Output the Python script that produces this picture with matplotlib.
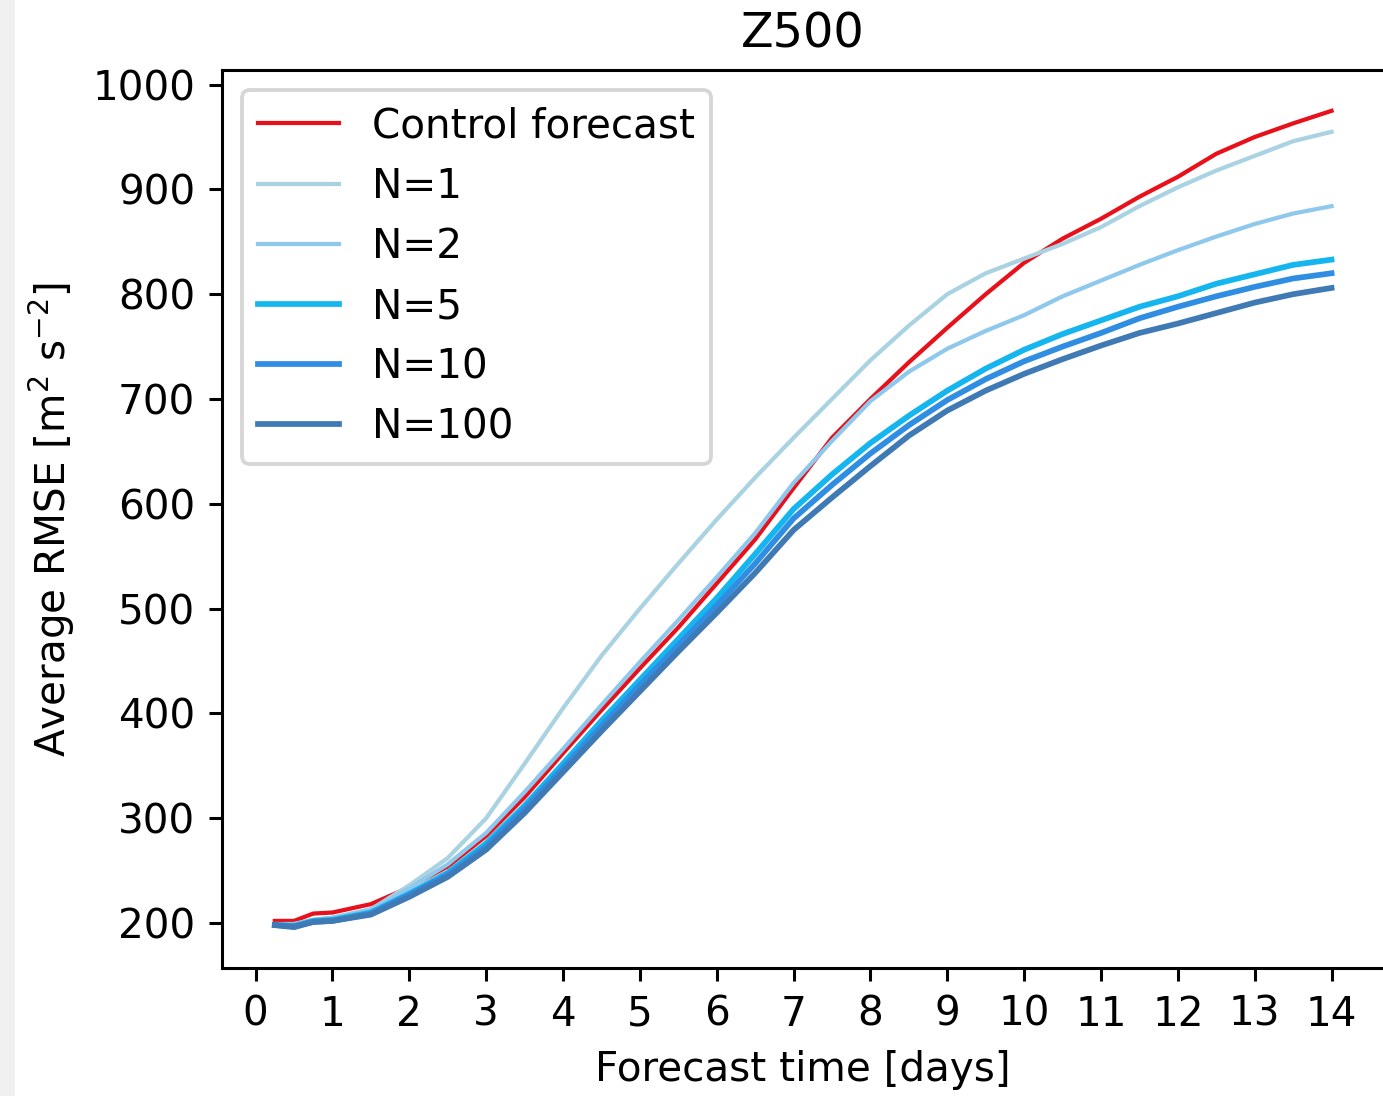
import matplotlib
matplotlib.use("Agg")
import matplotlib.pyplot as plt
from matplotlib.patches import Rectangle

days = [0.25, 0.5, 0.75, 1, 1.5, 2, 2.5, 3, 3.5, 4, 4.5, 5, 5.5, 6, 6.5, 7, 7.5,
        8, 8.5, 9, 9.5, 10, 10.5, 11, 11.5, 12, 12.5, 13, 13.5, 14]

control = [202, 202, 209, 210, 218, 234, 254, 283, 320, 362, 403, 443, 482, 524, 566, 615,
           663, 700, 735, 768, 800, 830, 853, 872, 893, 912, 934, 950, 963, 975]
n1 = [199, 199, 203, 205, 213, 236, 262, 300, 352, 405, 455, 500, 543, 585, 625, 663,
      700, 737, 770, 800, 820, 834, 848, 864, 884, 902, 918, 932, 946, 955]
n2 = [199, 199, 203, 205, 213, 233, 256, 286, 325, 366, 408, 449, 489, 530, 572, 620,
      660, 698, 726, 748, 765, 780, 798, 813, 828, 842, 855, 867, 877, 884]
n5 = [198, 197, 202, 203, 210, 228, 248, 276, 312, 352, 393, 432, 471, 510, 552, 595,
      628, 658, 684, 708, 729, 747, 762, 775, 788, 798, 810, 819, 828, 833]
n10 = [198, 197, 201, 202, 209, 227, 246, 273, 309, 348, 388, 427, 465, 503, 543, 586,
       618, 648, 675, 699, 719, 736, 750, 763, 777, 788, 798, 807, 815, 820]
n100 = [198, 196, 201, 202, 208, 225, 244, 270, 305, 344, 383, 421, 459, 496, 534, 575,
        606, 636, 665, 689, 708, 724, 738, 751, 763, 772, 782, 792, 800, 806]

labels = ["Control forecast", "N=1", "N=2", "N=5", "N=10", "N=100"]
series = [control, n1, n2, n5, n10, n100]
colors = ["#e8101a", "#a9d2e2", "#8ec8ec", "#15b6f0", "#2f8ee2", "#3f7ab4"]
widths = [1.1, 1.1, 1.1, 1.5, 1.5, 1.5]

W, H, DPI = 1383, 1096, 275
FS = 10.6
fig = plt.figure(figsize=(W / DPI, H / DPI), dpi=DPI)
fig.patches.append(Rectangle((0, 0), 15 / W, 1, transform=fig.transFigure,
                             facecolor="#f0f0f0", edgecolor="none", zorder=-1))
ax = fig.add_axes([222 / W, 1 - 968 / H, (1383 - 222) / W + 0.001, (968 - 70) / H])

for s, lab, c, lw in zip(series, labels, colors, widths):
    ax.plot(days, s, color=c, lw=lw, label=lab)

ax.set_xticks(range(0, 15))
ax.set_yticks(range(200, 1001, 100))
ax.tick_params(labelsize=FS)
ax.set_xlabel("Forecast time [days]", fontsize=FS)
ax.set_ylabel(r"Average RMSE [m$^2$ s$^{-2}$]", fontsize=FS)
ax.set_title("Z500", fontsize=12.5)
ax.legend(loc="upper left", fontsize=FS)

fig.savefig("out.png", dpi=DPI)
